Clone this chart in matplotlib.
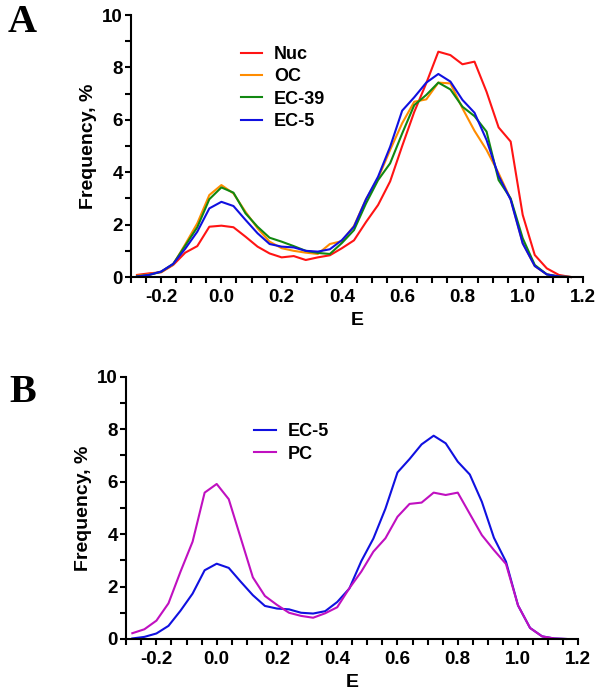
import numpy as np
import matplotlib
matplotlib.use("Agg")
import matplotlib.pyplot as plt
from matplotlib.ticker import MultipleLocator

plt.rcParams["font.family"] = ["Liberation Sans", "DejaVu Sans"]
plt.rcParams["font.weight"] = "bold"

# FRET efficiency bins
E = [-0.28, -0.24, -0.20, -0.16, -0.12, -0.08, -0.04, 0.00, 0.04, 0.08,
     0.12, 0.16, 0.20, 0.24, 0.28, 0.32, 0.36, 0.40, 0.44, 0.48,
     0.52, 0.56, 0.60, 0.64, 0.68, 0.72, 0.76, 0.80, 0.84, 0.88,
     0.92, 0.96, 1.00, 1.04, 1.08, 1.12, 1.16]

nuc = [0.08, 0.14, 0.18, 0.46, 0.93, 1.18, 1.92, 1.96, 1.90, 1.54,
       1.16, 0.90, 0.75, 0.80, 0.65, 0.75, 0.83, 1.10, 1.40, 2.10,
       2.75, 3.65, 5.00, 6.30, 7.40, 8.60, 8.47, 8.12, 8.22, 7.07,
       5.71, 5.17, 2.37, 0.84, 0.33, 0.08, 0.00]

oc = [0.05, 0.10, 0.20, 0.48, 1.25, 2.05, 3.13, 3.51, 3.19, 2.49,
      1.86, 1.35, 1.10, 1.00, 0.93, 0.88, 1.26, 1.37, 1.95, 2.97,
      3.77, 4.85, 5.87, 6.69, 6.78, 7.42, 7.39, 6.44, 5.58, 4.85,
      3.96, 2.97, 1.30, 0.42, 0.10, 0.02, 0.00]

ec39 = [0.03, 0.08, 0.20, 0.50, 1.20, 1.90, 2.97, 3.42, 3.22, 2.43,
        1.92, 1.50, 1.35, 1.18, 1.00, 0.92, 0.88, 1.30, 1.79, 2.81,
        3.70, 4.34, 5.48, 6.56, 6.95, 7.42, 7.16, 6.50, 6.14, 5.55,
        3.70, 3.00, 1.48, 0.46, 0.10, 0.02, 0.00]

ec5 = [0.02, 0.08, 0.21, 0.50, 1.08, 1.73, 2.62, 2.87, 2.71, 2.18,
       1.67, 1.26, 1.16, 1.13, 1.00, 0.97, 1.06, 1.41, 1.92, 2.97,
       3.83, 4.97, 6.35, 6.86, 7.42, 7.75, 7.46, 6.76, 6.27, 5.23,
       3.86, 2.95, 1.28, 0.42, 0.10, 0.02, 0.00]

pc = [0.22, 0.37, 0.70, 1.36, 2.57, 3.71, 5.58, 5.91, 5.33, 3.84,
      2.35, 1.64, 1.30, 1.00, 0.88, 0.81, 0.98, 1.21, 1.93, 2.57,
      3.33, 3.84, 4.66, 5.15, 5.20, 5.58, 5.49, 5.58, 4.77, 3.96,
      3.39, 2.86, 1.28, 0.42, 0.10, 0.02, 0.00]

series_a = [("Nuc", nuc, "#ff1414"), ("OC", oc, "#ff8c00"),
            ("EC-39", ec39, "#118811"), ("EC-5", ec5, "#1010e0")]
series_b = [("EC-5", ec5, "#1010e0"), ("PC", pc, "#c010c0")]

fig = plt.figure(figsize=(6.02, 6.95), dpi=100)
ax_a = fig.add_axes([0.2176, 0.6014, 0.7508, 0.377])
ax_b = fig.add_axes([0.2098, 0.0806, 0.7508, 0.3774])


def style_axes(ax):
    ax.set_xlim(-0.3, 1.2)
    ax.set_ylim(0, 10)
    ax.xaxis.set_minor_locator(MultipleLocator(0.05))
    ax.yaxis.set_major_locator(MultipleLocator(2))
    ax.yaxis.set_minor_locator(MultipleLocator(1))
    ax.set_xticks([-0.2, 0.0, 0.2, 0.4, 0.6, 0.8, 1.0, 1.2])
    ax.set_xticklabels(["-0.2", "0.0", "0.2", "0.4", "0.6", "0.8", "1.0", "1.2"])
    for s in ["top", "right"]:
        ax.spines[s].set_visible(False)
    for s in ["left", "bottom"]:
        ax.spines[s].set_linewidth(1.5)
    ax.tick_params(which="both", direction="out", width=1.5, labelsize=13.5)
    ax.tick_params(which="major", length=4.5)
    ax.tick_params(which="minor", length=4)
    ax.tick_params(axis="x", which="major", pad=4)
    ax.tick_params(axis="y", which="major", pad=1.5)
    for lab in ax.get_xticklabels() + ax.get_yticklabels():
        lab.set_fontweight("bold")
    ax.set_xlabel("E", fontsize=14, fontweight="bold")
    ax.set_ylabel("Frequency, %", fontsize=14, fontweight="bold")
    ax.xaxis.set_label_coords(0.5, -0.135)
    ax.yaxis.set_label_coords(-0.075, 0.5)


for name, vals, col in series_a:
    ax_a.plot(E, vals, color=col, lw=1.5, label=name, clip_on=False)
style_axes(ax_a)
ax_a.legend(loc="upper left", bbox_to_anchor=(0.243, 0.882), frameon=False,
            borderpad=0, borderaxespad=0, handlelength=1.2, handletextpad=0.65,
            labelspacing=0.3, prop={"size": 13, "weight": "bold"})

for name, vals, col in series_b:
    ax_b.plot(E, vals, color=col, lw=1.5, label=name, clip_on=False)
style_axes(ax_b)
ax_b.legend(loc="upper left", bbox_to_anchor=(0.2825, 0.822), frameon=False,
            borderpad=0, borderaxespad=0, handlelength=1.2, handletextpad=0.65,
            labelspacing=0.3, prop={"size": 13, "weight": "bold"})

fig.text(22 / 602, 1 - 22 / 695, "A", fontsize=29, fontweight="bold",
         family="Liberation Serif", ha="center", va="center")
fig.text(23 / 602, 1 - 392 / 695, "B", fontsize=29, fontweight="bold",
         family="Liberation Serif", ha="center", va="center")

fig.savefig("out.png", dpi=100)
